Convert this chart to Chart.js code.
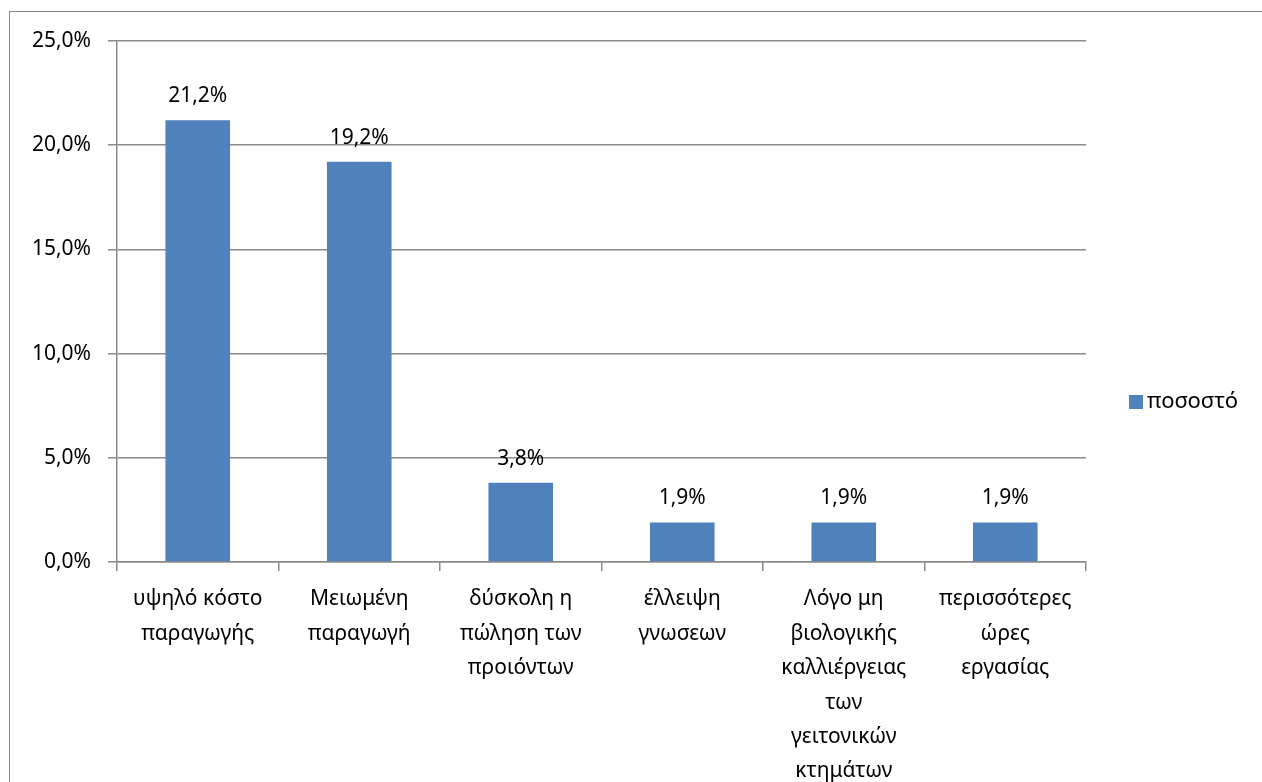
<!DOCTYPE html>
<html>
<head>
<meta charset="utf-8">
<script src="https://cdn.jsdelivr.net/npm/chart.js@4/dist/chart.umd.min.js"></script>
<style>
  html, body { margin: 0; padding: 0; background: #fff; }
  #wrap { position: relative; width: 1262px; height: 782px; overflow: hidden; }
  #frame { position: absolute; left: 9px; top: 11px; width: 1300px; height: 800px; border: 1px solid #8a8a8a; box-sizing: border-box; }
  canvas { position: absolute; left: 0; top: 0; }
</style>
</head>
<body>
<div id="wrap">
  <div id="frame"></div>
  <canvas id="c" width="1262" height="782"></canvas>
</div>
<script>
const categories = [
  ["υψηλό κόστο", "παραγωγής"],
  ["Μειωμένη", "παραγωγή"],
  ["δύσκολη η", "πώληση των", "προιόντων"],
  ["έλλειψη", "γνωσεων"],
  ["Λόγο μη", "βιολογικής", "καλλιέργειας", "των", "γειτονικών", "κτημάτων"],
  ["περισσότερες", "ώρες", "εργασίας"]
];
const seriesName = "ποσοστό";
const values = [21.2, 19.2, 3.8, 1.9, 1.9, 1.9];
const yTicks = [0, 5, 10, 15, 20, 25];

const FONT = "'Noto Sans', 'DejaVu Sans', sans-serif";
const BAR = "#4F81BD";
const GRID = "#8a8a8a";
const fmt = v => v.toFixed(1).replace('.', ',') + '%';

const dataLabels = {
  id: 'dataLabels',
  afterDatasetsDraw(chart) {
    const ctx = chart.ctx;
    const meta = chart.getDatasetMeta(0);
    ctx.save();
    ctx.font = "21px " + FONT;
    ctx.fillStyle = "#000";
    ctx.textAlign = "center";
    ctx.textBaseline = "middle";
    meta.data.forEach((bar, i) => {
      ctx.fillText(fmt(chart.data.datasets[0].data[i]), bar.x, bar.y - 24);
    });
    ctx.restore();
  }
};

const sideLegend = {
  id: 'sideLegend',
  afterDraw(chart) {
    const ctx = chart.ctx;
    const ds = chart.data.datasets[0];
    const cy = 402;
    ctx.save();
    ctx.fillStyle = ds.backgroundColor;
    ctx.fillRect(1129, cy - 7, 14, 14);
    ctx.fillStyle = "#000";
    ctx.font = "22px " + FONT;
    ctx.textAlign = "left";
    ctx.textBaseline = "middle";
    ctx.fillText(ds.label, 1147, cy);
    ctx.restore();
  }
};

new Chart(document.getElementById('c'), {
  type: 'bar',
  data: {
    labels: categories,
    datasets: [{
      label: seriesName,
      data: values,
      backgroundColor: BAR,
      borderWidth: 0,
      barPercentage: 0.4,
      categoryPercentage: 1.0
    }]
  },
  options: {
    responsive: false,
    animation: false,
    devicePixelRatio: 1,
    layout: { padding: { top: 41, right: 176, left: 0, bottom: 0 } },
    plugins: { legend: { display: false }, tooltip: { enabled: false } },
    scales: {
      x: {
        afterFit: s => { s.height = 220; },
        grid: { display: true, drawOnChartArea: false, color: GRID, lineWidth: 1.5, tickLength: 9, offset: true },
        border: { display: true, color: GRID, width: 1.5 },
        ticks: { color: "#000", font: { family: FONT, size: 21, lineHeight: 1.64 }, padding: 11, maxRotation: 0, autoSkip: false }
      },
      y: {
        min: 0, max: 25,
        afterFit: s => { s.width = 117; },
        afterBuildTicks: s => { s.ticks = yTicks.map(v => ({ value: v })); },
        grid: { color: GRID, lineWidth: 1.5, tickLength: 9 },
        border: { display: true, color: GRID, width: 1.5 },
        ticks: { color: "#000", font: { family: FONT, size: 21 }, padding: 17, callback: v => fmt(v) }
      }
    }
  },
  plugins: [dataLabels, sideLegend]
});
</script>
</body>
</html>
